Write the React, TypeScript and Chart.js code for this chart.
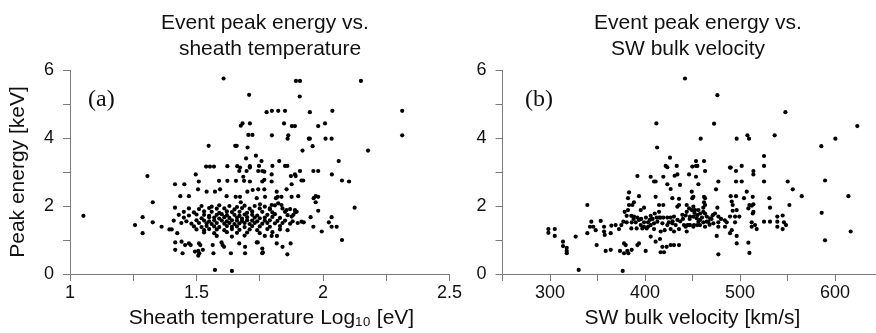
import React, { useEffect, useRef } from 'react';
import { Chart, registerables } from 'chart.js';

Chart.register(...registerables);

// ---------- DATA ----------
const titleA = ['Event peak energy vs.', 'sheath temperature'];
const titleB = ['Event peak energy vs.', 'SW bulk velocity'];
const xTitleA = '    Sheath temperature Log\u2081\u2080 [eV]';
const xTitleB = 'SW bulk velocity [km/s]';
const yTitle = 'Peak energy [keV]';
const panelLabels = ['(a)', '(b)'];

const energyTickLabels = ['0', '2', '4', '6'];
const tempTickLabels = ['1', '1.5', '2', '2.5'];
const velTickLabels = ['300', '400', '500', '600'];

// Panel (a): [log10 sheath temperature (eV), peak energy (keV)]
const sheathOuterPoints: [number, number][] = [
  [1.607, 5.75], [1.708, 5.27], [1.893, 5.68], [1.909, 5.68], [1.908, 5.22], [2.15, 5.68],
  [1.777, 4.76], [1.798, 4.8], [1.823, 4.8], [1.85, 4.8], [1.948, 4.76], [2.037, 4.8], [2.313, 4.8],
  [1.675, 4.36], [1.682, 4.43], [1.711, 4.43], [1.846, 4.43], [1.877, 4.35], [1.889, 4.35], [1.981, 4.35], [2.008, 4.43],
  [1.705, 4.09], [1.721, 4.09], [1.798, 4.08], [1.863, 4.08], [1.86, 3.98], [1.944, 3.98], [1.948, 3.98], [2.01, 3.98], [2.034, 3.98], [2.313, 4.08],
  [1.548, 3.77], [1.653, 3.77], [1.659, 3.77], [1.702, 3.72], [1.959, 3.76], [1.919, 3.63], [2.178, 3.63],
  [1.735, 3.48], [1.696, 3.4], [1.757, 3.32], [1.827, 3.32], [2.062, 3.32],
  [1.538, 3.16], [1.553, 3.16], [1.569, 3.16], [1.622, 3.17], [1.661, 3.17], [1.672, 3.13], [1.711, 3.17], [1.711, 3.13], [1.747, 3.18], [1.8, 3.18], [1.85, 3.18], [1.859, 3.18],
  [1.669, 3.03], [1.698, 3.03], [1.744, 3.03], [1.76, 3.03], [1.768, 3.01], [1.962, 3.03], [1.981, 3.03], [1.909, 3.03],
  [1.497, 2.93], [1.306, 2.88], [1.797, 2.93], [1.889, 2.93], [1.873, 2.88], [1.892, 2.88], [2.035, 2.93],
  [1.589, 2.74], [1.622, 2.74], [1.656, 2.74], [1.685, 2.86], [1.688, 2.74], [1.711, 2.72], [1.509, 2.72], [1.797, 2.72], [1.76, 2.72], [1.768, 2.77], [1.915, 2.75], [1.922, 2.75], [2.075, 2.75], [2.103, 2.72],
  [1.415, 2.64], [1.452, 2.64], [1.876, 2.64],
  [1.506, 2.49], [1.54, 2.42], [1.573, 2.42], [1.593, 2.49], [1.701, 2.42], [1.722, 2.47], [1.744, 2.49], [1.768, 2.49], [1.817, 2.42], [1.856, 2.49],
  [1.619, 2.29], [1.655, 2.27], [1.672, 2.27], [1.436, 2.29], [1.47, 2.29], [1.771, 2.27], [1.738, 2.23], [1.821, 2.27], [1.814, 2.23], [1.836, 2.27], [1.876, 2.27], [1.902, 2.29], [1.963, 2.23], [1.971, 2.29], [1.981, 2.27],
  [1.675, 2.11], [1.327, 2.11], [1.751, 2.05], [1.823, 2.08], [1.836, 2.03], [1.797, 2.03], [1.971, 2.11],
  [1.415, 1.95], [1.79, 1.93], [2.125, 1.95], [1.981, 1.86], [1.856, 1.88], [1.889, 1.88], [1.896, 1.83], [1.883, 1.74], [1.876, 1.69],
  [1.053, 1.71], [1.287, 1.67], [1.257, 1.44], [1.287, 1.2], [1.327, 1.52], [1.362, 1.39], [1.393, 1.31], [1.402, 1.31], [1.424, 1.2],
  [1.951, 1.67], [2.034, 1.67], [2.023, 1.52], [2.034, 1.39], [2.054, 1.39], [1.962, 1.39], [1.995, 1.25], [1.915, 1.54], [1.924, 1.52],
  [1.797, 1.12], [1.818, 1.12], [1.738, 0.93], [1.817, 0.9], [1.84, 0.8], [1.872, 0.9], [1.76, 0.75], [1.76, 0.61], [1.762, 0.64], [1.859, 0.58], [2.075, 1.0],
  [1.416, 0.93], [1.441, 0.95], [1.455, 0.85], [1.47, 0.9], [1.477, 0.85], [1.51, 0.9], [1.515, 0.85], [1.525, 0.71], [1.507, 0.68], [1.494, 0.66], [1.511, 0.61], [1.507, 0.54], [1.416, 0.71], [1.445, 0.61],
  [1.564, 0.85], [1.567, 0.61], [1.603, 0.85], [1.609, 0.8], [1.599, 0.93], [1.636, 0.61], [1.669, 0.9], [1.692, 0.8], [1.692, 0.61], [1.742, 0.93], [1.573, 0.12], [1.64, 0.09],
];

const sheathCorePoints: [number, number][] = [
  [1.52, 2.0], [1.56, 1.98], [1.59, 2.02], [1.63, 2.0], [1.66, 1.97], [1.69, 2.01], [1.73, 2.0], [1.77, 1.98], [1.81, 2.02],
  [1.47, 1.93], [1.51, 1.91], [1.55, 1.94], [1.58, 1.92], [1.61, 1.93], [1.65, 1.9], [1.68, 1.94], [1.71, 1.92], [1.75, 1.93], [1.79, 1.9], [1.84, 1.93], [1.87, 1.91],
  [1.45, 1.83], [1.49, 1.81], [1.53, 1.84], [1.56, 1.83], [1.59, 1.8], [1.62, 1.84], [1.64, 1.82], [1.67, 1.83], [1.7, 1.8], [1.72, 1.84], [1.76, 1.83], [1.8, 1.81], [1.85, 1.83], [1.89, 1.82],
  [1.43, 1.74], [1.47, 1.72], [1.5, 1.75], [1.53, 1.74], [1.55, 1.71], [1.58, 1.74], [1.6, 1.76], [1.62, 1.73], [1.65, 1.74], [1.67, 1.71], [1.69, 1.75], [1.72, 1.74], [1.74, 1.72], [1.78, 1.74], [1.81, 1.76], [1.86, 1.73],
  [1.45, 1.66], [1.52, 1.64], [1.55, 1.67], [1.57, 1.66], [1.59, 1.63], [1.61, 1.67], [1.63, 1.65], [1.66, 1.66], [1.68, 1.63], [1.7, 1.67], [1.73, 1.66], [1.75, 1.64], [1.77, 1.66], [1.8, 1.68], [1.83, 1.65],
  [1.41, 1.57], [1.46, 1.55], [1.5, 1.58], [1.53, 1.57], [1.55, 1.55], [1.57, 1.58], [1.6, 1.57], [1.62, 1.55], [1.64, 1.58], [1.66, 1.57], [1.68, 1.56], [1.7, 1.58], [1.72, 1.57], [1.74, 1.55], [1.77, 1.57], [1.79, 1.58], [1.82, 1.56], [1.85, 1.57], [1.88, 1.55],
  [1.44, 1.5], [1.48, 1.48], [1.51, 1.5], [1.54, 1.49], [1.56, 1.47], [1.58, 1.5], [1.61, 1.48], [1.63, 1.5], [1.65, 1.47], [1.67, 1.49], [1.69, 1.5], [1.71, 1.47], [1.73, 1.5], [1.76, 1.48], [1.78, 1.5], [1.81, 1.49], [1.84, 1.5], [1.87, 1.48], [1.9, 1.5],
  [1.49, 1.4], [1.52, 1.38], [1.54, 1.41], [1.57, 1.4], [1.59, 1.38], [1.62, 1.41], [1.64, 1.39], [1.66, 1.4], [1.69, 1.38], [1.72, 1.41], [1.75, 1.4], [1.79, 1.39], [1.83, 1.41],
  [1.5, 1.31], [1.53, 1.29], [1.55, 1.32], [1.58, 1.31], [1.61, 1.29], [1.64, 1.32], [1.67, 1.3], [1.71, 1.31], [1.74, 1.29], [1.78, 1.32], [1.83, 1.31], [1.86, 1.29],
  [1.53, 1.22], [1.57, 1.2], [1.62, 1.23], [1.66, 1.21], [1.7, 1.22], [1.75, 1.2], [1.8, 1.23],
  [1.58, 1.12], [1.64, 1.1], [1.69, 1.13], [1.77, 1.12],
];

// Panel (b): [SW bulk velocity (km/s), peak energy (keV)]
const velocityOuterPoints: [number, number][] = [
  [442.1, 5.75], [476.2, 5.26], [412.0, 4.43], [472.7, 4.42], [547.8, 4.76], [623.5, 4.35], [412.7, 3.72], [458.6, 3.98], [496.5, 3.98], [507.8, 4.08], [509.5, 3.98], [536.5, 4.08], [600.4, 3.98], [585.6, 3.76],
  [426.3, 3.42], [525.3, 3.47], [453.7, 3.32], [462.1, 3.32],
  [421.8, 3.18], [423.5, 3.14], [433.4, 3.18], [449.8, 3.16], [455.1, 3.18], [489.5, 3.13], [501.8, 3.18], [525.3, 3.18],
  [298.3, 1.32], [298.3, 1.21], [305.0, 1.32], [305.0, 1.12], [313.7, 0.95], [313.7, 0.82], [317.6, 0.77], [317.6, 0.68], [317.6, 0.61], [327.0, 1.1], [330.2, 0.12],
  [339.3, 2.03], [339.3, 1.2], [343.5, 1.54], [342.1, 1.39], [345.6, 1.39], [348.1, 1.29], [353.4, 1.56], [349.1, 0.85],
  [356.9, 1.39], [356.9, 1.25], [357.6, 1.15], [363.9, 1.2], [358.6, 0.68], [363.9, 0.71],
  [364.6, 1.42], [369.1, 1.44], [372.6, 1.32], [375.1, 1.44], [377.2, 1.54],
  [373.7, 0.68], [377.9, 0.9], [379.7, 0.85], [381.4, 0.68], [382.5, 0.61], [386.0, 0.71], [377.9, 0.61], [376.5, 0.09],
  [378.6, 1.83], [382.1, 1.88], [380.7, 1.71], [385.6, 1.71], [388.4, 1.69],
  [383.2, 2.03], [386.7, 2.03], [382.1, 2.23], [383.2, 2.4], [388.4, 2.11], [393.7, 2.29], [392.0, 2.88],
  [393.7, 0.9], [392.0, 0.85], [400.7, 0.68],
  [395.5, 1.88], [399.0, 1.95], [406.0, 1.71], [410.2, 1.78], [414.8, 1.83],
  [406.0, 2.86], [409.5, 2.72], [411.2, 2.72], [419.3, 2.86], [423.5, 2.64], [427.0, 2.5],
  [411.2, 2.27], [414.8, 2.03], [419.3, 2.03],
  [406.0, 1.1], [411.2, 0.95], [415.8, 1.03],
  [418.3, 0.8], [420.0, 0.64], [422.8, 0.8], [427.0, 0.85], [430.5, 0.85], [435.8, 0.85], [416.5, 0.64],
  [428.8, 2.23], [434.1, 1.98], [435.8, 2.03], [435.8, 2.21],
  [431.2, 2.89], [434.1, 2.93], [436.9, 2.62], [446.4, 2.93],
  [443.9, 2.03], [446.4, 1.93], [449.8, 2.23], [450.9, 1.98],
  [453.7, 3.18], [463.2, 3.03], [490.2, 3.13], [495.8, 3.03], [514.1, 3.03], [514.1, 2.93],
  [453.7, 2.86], [456.2, 2.64], [477.2, 2.72], [474.8, 2.49], [495.8, 2.72], [501.8, 2.72], [525.3, 2.72], [550.2, 2.72], [555.5, 2.49], [565.0, 2.29], [589.5, 2.75], [614.1, 2.29], [586.0, 1.8], [589.5, 0.99], [616.5, 1.25], [552.0, 2.03],
  [449.2, 2.42], [450.9, 2.27], [462.1, 2.27], [463.2, 2.23], [462.1, 2.11], [463.2, 2.03], [461.4, 1.95],
  [471.3, 1.73], [473.7, 1.78], [476.2, 1.95], [477.2, 1.69],
  [477.2, 1.52], [477.2, 1.39], [484.2, 1.39], [486.0, 1.52], [489.5, 1.69], [494.8, 1.69], [499.3, 1.69], [494.8, 1.52],
  [475.5, 1.12], [496.5, 1.12], [496.5, 0.9], [489.5, 1.2], [491.3, 1.29],
  [477.2, 0.58], [508.8, 0.92], [509.9, 0.62],
  [490.2, 2.29], [495.8, 2.29], [492.3, 2.03], [491.3, 2.13], [496.5, 1.88], [492.3, 1.86],
  [504.2, 2.23], [507.1, 2.42], [513.4, 2.27], [514.1, 2.05], [512.3, 2.01], [509.9, 2.03], [508.8, 1.93], [514.1, 1.83], [513.4, 1.78],
  [512.3, 1.52], [512.3, 1.39], [515.8, 1.44], [517.6, 1.32],
  [525.3, 1.54], [531.6, 1.54], [530.9, 2.23], [531.6, 1.95],
  [539.3, 1.69], [539.3, 1.54], [539.3, 1.39], [544.9, 1.72], [546.3, 1.52], [544.9, 1.32], [548.4, 1.44],
];

const velocityCorePoints: [number, number][] = [
  [380.7, 1.52], [386.0, 1.52], [390.2, 1.52], [393.7, 1.59], [395.5, 1.44], [399.0, 1.52], [399.0, 1.39], [403.2, 1.52], [403.2, 1.39],
  [385.6, 1.34], [391.2, 1.34], [397.2, 1.34], [401.8, 1.34],
  [412.3, 1.66], [414.8, 1.66], [416.5, 1.66], [419.3, 1.66], [423.5, 1.66], [427.0, 1.66], [430.5, 1.69], [434.1, 1.59], [439.3, 1.74], [442.8, 1.72], [443.9, 1.83],
  [406.0, 1.44], [409.5, 1.49], [413.0, 1.54], [418.3, 1.49], [423.5, 1.44], [428.8, 1.49], [432.3, 1.44], [441.0, 1.44], [442.8, 1.39], [444.6, 1.44],
  [409.5, 1.32], [416.5, 1.25], [420.7, 1.29], [427.0, 1.32], [430.5, 1.25], [435.8, 1.32],
  [446.4, 1.44], [451.6, 1.44], [443.9, 1.25],
  [449.2, 1.88], [452.7, 1.88], [456.2, 1.88], [458.0, 1.78], [461.4, 1.83], [463.2, 1.78], [465.0, 1.69], [468.5, 1.64], [466.7, 1.54],
  [447.4, 1.69], [450.9, 1.69], [454.4, 1.64], [457.9, 1.59], [461.4, 1.52], [465.0, 1.54],
  [447.4, 1.44], [450.9, 1.39], [455.1, 1.44], [456.2, 1.54], [457.9, 1.44], [463.2, 1.39],
  [388.0, 1.62], [392.0, 1.66], [396.0, 1.62], [401.0, 1.66], [405.0, 1.59], [408.0, 1.62], [425.0, 1.52], [429.0, 1.55], [437.0, 1.55], [440.0, 1.62], [447.0, 1.62], [452.0, 1.8], [455.0, 1.73], [460.0, 1.66], [470.0, 1.62], [472.0, 1.49], [468.0, 1.45], [480.0, 1.62], [484.0, 1.58],
];

// ---------- STYLE ----------
const FONT = '"Liberation Sans", Arial, Helvetica, sans-serif';
const SERIF = '"Liberation Serif", "Times New Roman", serif';
const AXIS = '#7a7a7a';
const INK = '#111111';

const textPlugin = {
  id: 'panelText',
  afterDraw(chart: any, _args: any, opts: any) {
    const ctx = chart.ctx;
    ctx.save();
    for (const t of opts.items || []) {
      ctx.font = t.font;
      ctx.fillStyle = INK;
      ctx.textAlign = t.align || 'center';
      ctx.textBaseline = 'alphabetic';
      ctx.fillText(t.text, t.x, t.y);
    }
    ctx.restore();
  },
};

function labelFor(labels: string[]) {
  return (v: number | string) => {
    const n = Number(v);
    const hit = labels.find((l) => Math.abs(Number(l) - n) < 1e-9);
    return hit === undefined ? '' : hit;
  };
}

function toXY(pts: [number, number][]) {
  return pts.map(([x, y]) => ({ x, y }));
}

function yScale(withTitle: boolean, width: number) {
  return {
    type: 'linear',
    position: 'left',
    min: 0,
    max: 6,
    afterFit: (s: any) => { s.width = width; },
    ticks: { stepSize: 1, callback: labelFor(energyTickLabels), color: INK, padding: 9, font: { family: FONT, size: 18 } },
    grid: { drawOnChartArea: false, drawTicks: true, tickLength: 7, color: AXIS },
    border: { display: true, color: AXIS, width: 1 },
    title: { display: withTitle, text: yTitle, color: INK, font: { family: FONT, size: 21 }, padding: { top: 6, bottom: 0 } },
  };
}

function xScale(min: number, max: number, step: number, labels: string[], title: string) {
  return {
    type: 'linear',
    position: 'bottom',
    min,
    max,
    afterFit: (s: any) => { s.height = 59; },
    ticks: { stepSize: step, autoSkip: false, maxRotation: 0, callback: labelFor(labels), color: INK, padding: 1, font: { family: FONT, size: 18 } },
    grid: { drawOnChartArea: false, drawTicks: true, tickLength: 7, color: AXIS },
    border: { display: true, color: AXIS, width: 1 },
    title: { display: true, text: title, color: INK, font: { family: FONT, size: 21 }, padding: { top: 0, bottom: 2 } },
  };
}

function makeChart(canvas: HTMLCanvasElement, points: [number, number][], x: any, y: any, padding: any, texts: any[]) {
  return new Chart(canvas, {
    type: 'scatter',
    data: {
      datasets: [{
        data: toXY(points),
        backgroundColor: '#000',
        borderWidth: 0,
        pointRadius: 2.1,
        pointHoverRadius: 2.1,
      }],
    },
    options: {
      responsive: false,
      animation: false,
      events: [],
      layout: { padding },
      scales: { x, y },
      plugins: {
        legend: { display: false },
        tooltip: { enabled: false },
        title: { display: false },
        panelText: { items: texts },
      } as any,
    } as any,
    plugins: [textPlugin as any],
  });
}

export default function App() {
  const refA = useRef<HTMLCanvasElement>(null);
  const refB = useRef<HTMLCanvasElement>(null);

  useEffect(() => {
    const tFont = `21px ${FONT}`;
    const lFont = `24px ${SERIF}`;
    const a = makeChart(
      refA.current!,
      [...sheathOuterPoints, ...sheathCorePoints],
      xScale(1, 2.5, 0.25, tempTickLabels, xTitleA),
      yScale(true, 70),
      { left: 0, top: 70, right: 876 - 449.5, bottom: 0 },
      [
        { text: titleA[0], x: 265, y: 29, font: tFont },
        { text: titleA[1], x: 270, y: 55, font: tFont },
        { text: panelLabels[0], x: 88, y: 106, font: lFont, align: 'left' },
      ],
    );
    const b = makeChart(
      refB.current!,
      [...velocityOuterPoints, ...velocityCorePoints],
      xScale(250, 650, 50, velTickLabels, xTitleB),
      yScale(false, 40),
      { left: 502.5 - 40, top: 70, right: 900 - 882.5, bottom: 0 },
      [
        { text: titleB[0], x: 698, y: 29, font: tFont },
        { text: titleB[1], x: 688, y: 55, font: tFont },
        { text: panelLabels[1], x: 525, y: 106, font: lFont, align: 'left' },
      ],
    );
    return () => { a.destroy(); b.destroy(); };
  }, []);

  return (
    <div style={{ position: 'fixed', left: 0, top: 0, width: 876, height: 333, overflow: 'hidden', background: '#fff' }}>
      <canvas ref={refA} width={876} height={333} style={{ position: 'absolute', left: 0, top: 0 }} />
      <canvas ref={refB} width={900} height={333} style={{ position: 'absolute', left: 0, top: 0 }} />
    </div>
  );
}
